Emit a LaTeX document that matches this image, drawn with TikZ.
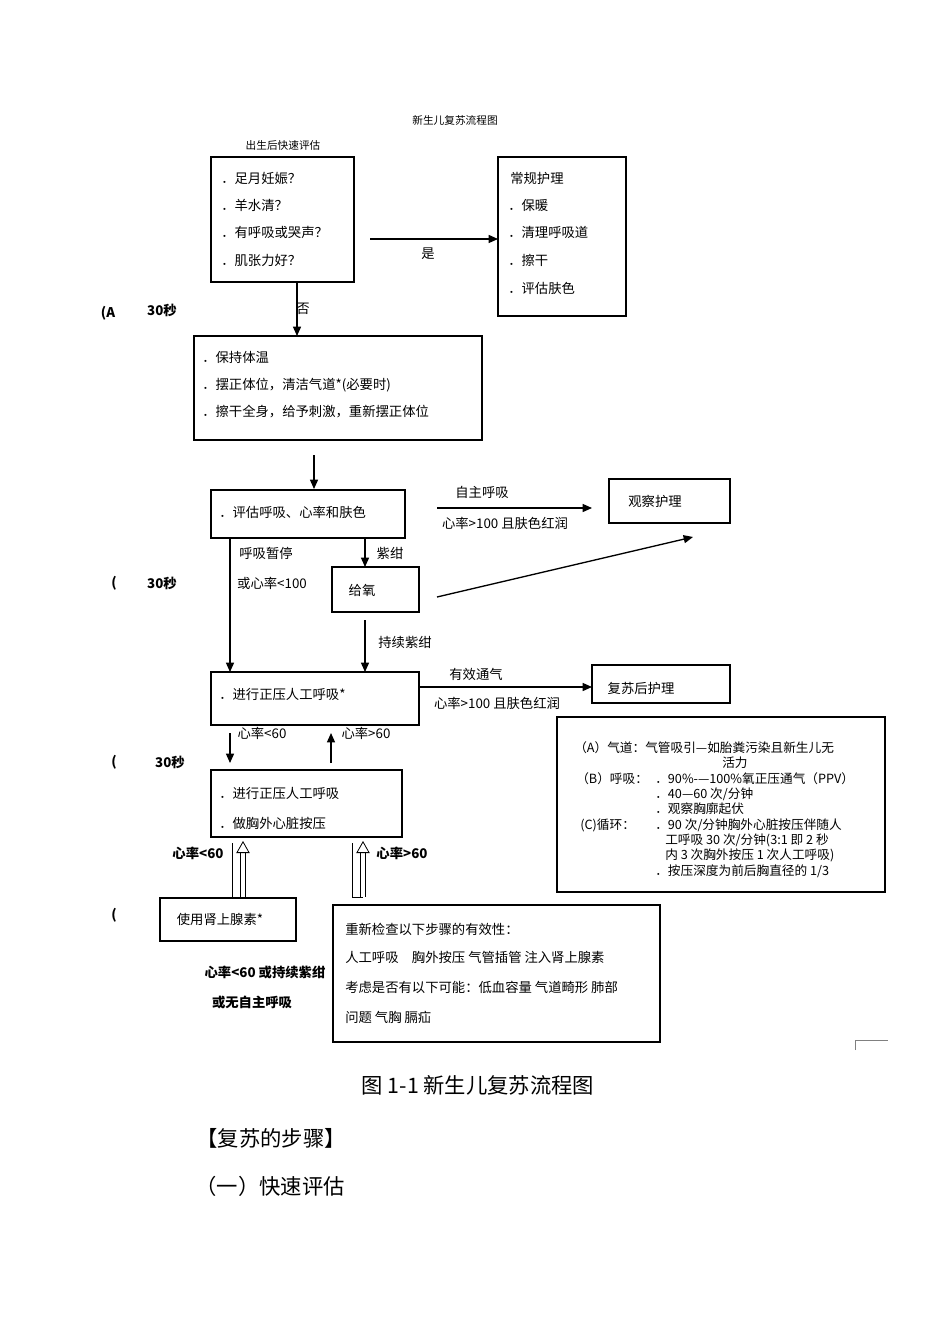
\documentclass[tikz,border=0pt]{standalone}
\usepackage{fontspec}
\setmainfont{Noto Sans CJK SC}
\usetikzlibrary{arrows.meta}
\tikzset{x=0.75pt,y=-0.75pt,
 bx/.style={draw,line width=0.8pt},
 t/.style={anchor=west,inner sep=0pt,font=\fontsize{10}{12}\selectfont},
 c/.style={inner sep=0pt,font=\fontsize{10}{12}\selectfont},
 b/.style={inner sep=0pt,font=\fontsize{10}{12}\selectfont\bfseries},
 ar/.style={line width=1pt,-{Triangle[length=7pt,width=6pt]}},
 hol/.style={double,double distance=3pt,line width=0.6pt,-{Triangle[open,length=9pt,width=10pt]}}}
\begin{document}
\begin{tikzpicture}
\useasboundingbox (0,0) rectangle (950,1344);
\node[c,font=\fontsize{8}{9}\selectfont] (ti) at (455,120) {新生儿复苏流程图};
\node[c,font=\fontsize{8}{9}\selectfont] (ti2) at (283,145) {出生后快速评估};
% box1
\draw[bx] (211,157) rectangle (354,282);
\node[t] (a1) at (221,178) {．足月妊娠？};
\node[t] (a2) at (221,205) {．羊水清？};
\node[t] (a3) at (221,232) {．有呼吸或哭声？};
\node[t] (a4) at (221,260) {．肌张力好？};
\coordinate (y1) at (370,239); \coordinate (y2) at (498,239);
\draw[ar] (y1) -- (y2);
\node[c] (yes) at (428,254) {是};
\draw[bx] (498,157) rectangle (626,316);
\node[t] (r1) at (510,178) {常规护理};
\node[t] (r2) at (508,205) {．保暖};
\node[t] (r3) at (508,232) {．清理呼吸道};
\node[t] (r4) at (508,260) {．擦干};
\node[t] (r5) at (508,288) {．评估肤色};
\coordinate (n1) at (297,282); \coordinate (n2) at (297,336);
\draw[ar] (n1) -- (n2);
\node[c] (no) at (303,309) {否};
\node[b] (s1a) at (108,313) {(A};
\node[b] (s1b) at (162,310) {30秒};
% box3
\draw[bx] (194,336) rectangle (482,440);
\node[t] (b1) at (202,357) {．保持体温};
\node[t] (b2) at (202,385) {．摆正体位，清洁气道*(必要时)};
\node[t] (b3) at (202,412) {．擦干全身，给予刺激，重新摆正体位};
\coordinate (d1) at (314,455); \coordinate (d2) at (314,489);
\draw[ar] (d1) -- (d2);
% eval
\draw[bx] (211,490) rectangle (405,538);
\node[t] (ev) at (219,512) {．评估呼吸、心率和肤色};
\coordinate (e1) at (437,508); \coordinate (e2) at (592,508);
\draw[ar] (e1) -- (e2);
\node[c] (l1) at (482,492) {自主呼吸};
\node[c] (l2) at (505,523) {心率>100 且肤色红润};
\draw[bx] (609,479) rectangle (730,523);
\node[c] (obs) at (655,501) {观察护理};
\coordinate (p1) at (230,538); \coordinate (p2) at (230,672);
\draw[ar] (p1) -- (p2);
\node[c] (l3) at (266,553) {呼吸暂停};
\node[c] (l4) at (272,583) {或心率<100};
\node[b] (s2a) at (114,583) {(};
\node[b] (s2b) at (162,583) {30秒};
\coordinate (z1) at (365,538); \coordinate (z2) at (365,567);
\draw[ar] (z1) -- (z2);
\node[c] (l5) at (390,553) {紫绀};
\draw[bx] (332,567) rectangle (419,612);
\node[c] (ox) at (362,590) {给氧};
\coordinate (o1) at (437,597); \coordinate (o2) at (693,537);
\draw[ar] (o1) -- (o2);
\coordinate (c1) at (365,620); \coordinate (c2) at (365,672);
\draw[ar] (c1) -- (c2);
\node[c] (l6) at (405,642) {持续紫绀};
% ppv
\draw[bx] (211,672) rectangle (419,725);
\node[t] (pp) at (219,694) {．进行正压人工呼吸*};
\coordinate (v1) at (419,687); \coordinate (v2) at (592,687);
\draw[ar] (v1) -- (v2);
\node[c] (l7) at (476,674) {有效通气};
\node[c] (l8) at (497,703) {心率>100 且肤色红润};
\draw[bx] (592,665) rectangle (730,703);
\node[c] (post) at (641,688) {复苏后护理};
% ABC
\draw[bx] (557,717) rectangle (885,892);
\begin{scope}[every node/.style={anchor=west,inner sep=0pt,font=\fontsize{9.5}{11}\selectfont}]
\node (k1) at (574,748) {（A）气道：气管吸引—如胎粪污染且新生儿无};
\node (k2) at (722,763) {活力};
\node (k3) at (576,779) {（B）呼吸：};
\node (k4) at (655,779) {．90\%-—100\%氧正压通气（PPV）};
\node (k5) at (655,794) {．40—60 次/分钟};
\node (k6) at (655,809) {．观察胸廓起伏};
\node (k7) at (580,825) {(C)循环：};
\node (k8) at (655,825) {．90 次/分钟胸外心脏按压伴随人};
\node (k9) at (665,840) {工呼吸 30 次/分钟(3:1 即 2 秒};
\node (k10) at (665,855) {内 3 次胸外按压 1 次人工呼吸)};
\node (k11) at (655,871) {．按压深度为前后胸直径的 1/3};
\end{scope}
\coordinate (f1) at (230,733); \coordinate (f2) at (230,763);
\draw[ar] (f1) -- (f2);
\node[c] (l9) at (262,733) {心率<60};
\coordinate (g1) at (331,763); \coordinate (g2) at (331,733);
\draw[ar] (g1) -- (g2);
\node[c] (l10) at (366,733) {心率>60};
\node[b] (s3a) at (114,762) {(};
\node[b] (s3b) at (170,762) {30秒};
% chest
\draw[bx] (211,770) rectangle (402,837);
\node[t] (h1) at (219,793) {．进行正压人工呼吸};
\node[t] (h2) at (219,823) {．做胸外心脏按压};
\coordinate (q1) at (232,843); \coordinate (q2) at (232,897);
\coordinate (q3) at (243,897); \coordinate (q4) at (243,841);
\draw[line width=0.7pt] (q1) -- (q2) -- (q3);
\draw[hol] (q3) -- (q4);
\coordinate (w1) at (352,843); \coordinate (w2) at (352,897);
\coordinate (w3) at (363,897); \coordinate (w4) at (363,841);
\draw[line width=0.7pt] (w1) -- (w2) -- (w3);
\draw[hol] (w3) -- (w4);
\node[b] (l11) at (198,853) {心率<60};
\node[b] (l12) at (402,853) {心率>60};
\node[b] (s4) at (114,915) {(};
\draw[bx] (160,898) rectangle (296,941);
\node[c] (ep) at (220,919) {使用肾上腺素*};
\draw[bx] (333,905) rectangle (660,1042);
\node[t] (m1) at (345,929) {重新检查以下步骤的有效性：};
\node[t] (m2) at (345,957) {人工呼吸\quad 胸外按压 气管插管 注入肾上腺素};
\node[t] (m3) at (345,987) {考虑是否有以下可能：低血容量 气道畸形 肺部};
\node[t] (m4) at (345,1017) {问题 气胸 膈疝};
\node[b] (l13) at (265,972) {心率<60 或持续紫绀};
\node[b] (l14) at (252,1002) {或无自主呼吸};
\draw[gray,line width=0.6pt] (855,1050) -- (855,1040) -- (888,1040);
\node[inner sep=0pt,font=\fontsize{16}{18}\selectfont] (cap) at (478,1085) {图 1-1 新生儿复苏流程图};
\node[inner sep=0pt,font=\fontsize{16}{18}\selectfont] (st) at (271,1138) {【复苏的步骤】};
\node[inner sep=0pt,font=\fontsize{16}{18}\selectfont] (st2) at (270,1186) {（一）快速评估};
\end{tikzpicture}
\end{document}
